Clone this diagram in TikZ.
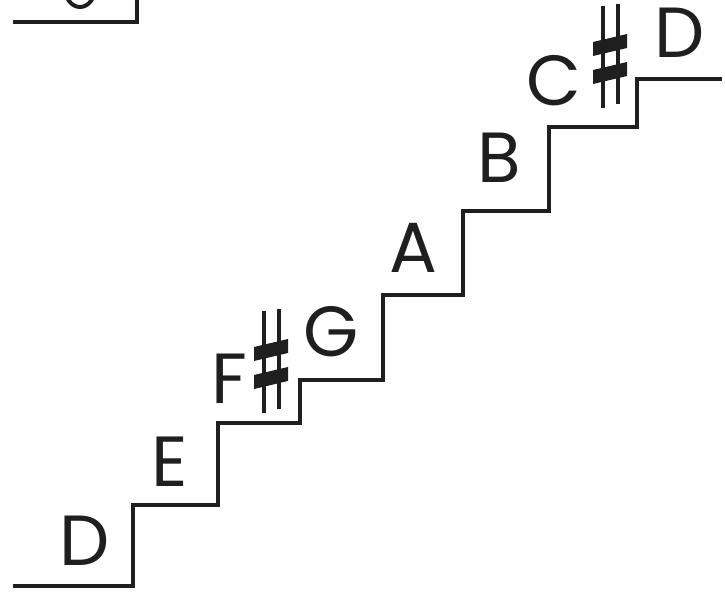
\documentclass[tikz,border=0pt]{standalone}
\usepackage{fontspec}
\setmainfont{Poppins}
\begin{document}
\begin{tikzpicture}[x=1pt,y=-1pt,
  stair/.style={line width=3.6pt,line join=miter,line cap=butt,color=black!88},
  note/.style={inner sep=0pt,anchor=base,font=\fontsize{71}{71}\selectfont,text=black!88},
  sharpbar/.style={fill=black!88,draw=none},
  sharpline/.style={line width=3.4pt,color=black!88}]
\useasboundingbox (0,0) rectangle (725,595);
% top-left remnant of the previous staircase
\draw[stair] (13,22) -- (137,22) -- (137,-2);
\begin{scope}
\clip (0,0) rectangle (725,10);
\draw[line width=4pt,color=black!88] (80,-12) ellipse (15 and 19);
\end{scope}
% staircase
\draw[stair] (13,586) -- (133,586) -- (133,505) -- (218,505) -- (218,423)
  -- (300,423) -- (300,380) -- (383,380) -- (383,295) -- (463,295)
  -- (463,211) -- (549,211) -- (549,127) -- (637,127) -- (637,79) -- (722,79);
% notes
\node[note] (d1) at (85,565) {D};
\node[note] (e) at (170,486) {E};
\node[note] (f) at (229,403) {F};
\node[note] (g) at (331,356) {G};
\node[note] (a) at (413,272) {A};
\node[note] (b) at (499,182) {B};
\node[note] (c) at (554,105) {C};
\node[note] (d2) at (680,57) {D};
% sharps
\foreach \cx/\cy/\nm in {271/361/fs, 610/56/cs}{
  \begin{scope}[shift={(\cx,\cy)}]
    \coordinate (\nm) at (0,0);
    \draw[sharpline] (-7,-50) -- (-7,52);
    \draw[sharpline] (8,-52) -- (8,48);
    \fill[sharpbar] (-17,-14) -- (17,-22) -- (17,-8) -- (-17,0) -- cycle;
    \fill[sharpbar] (-17,14) -- (17,6) -- (17,20) -- (-17,28) -- cycle;
  \end{scope}
}
\end{tikzpicture}
\end{document}
